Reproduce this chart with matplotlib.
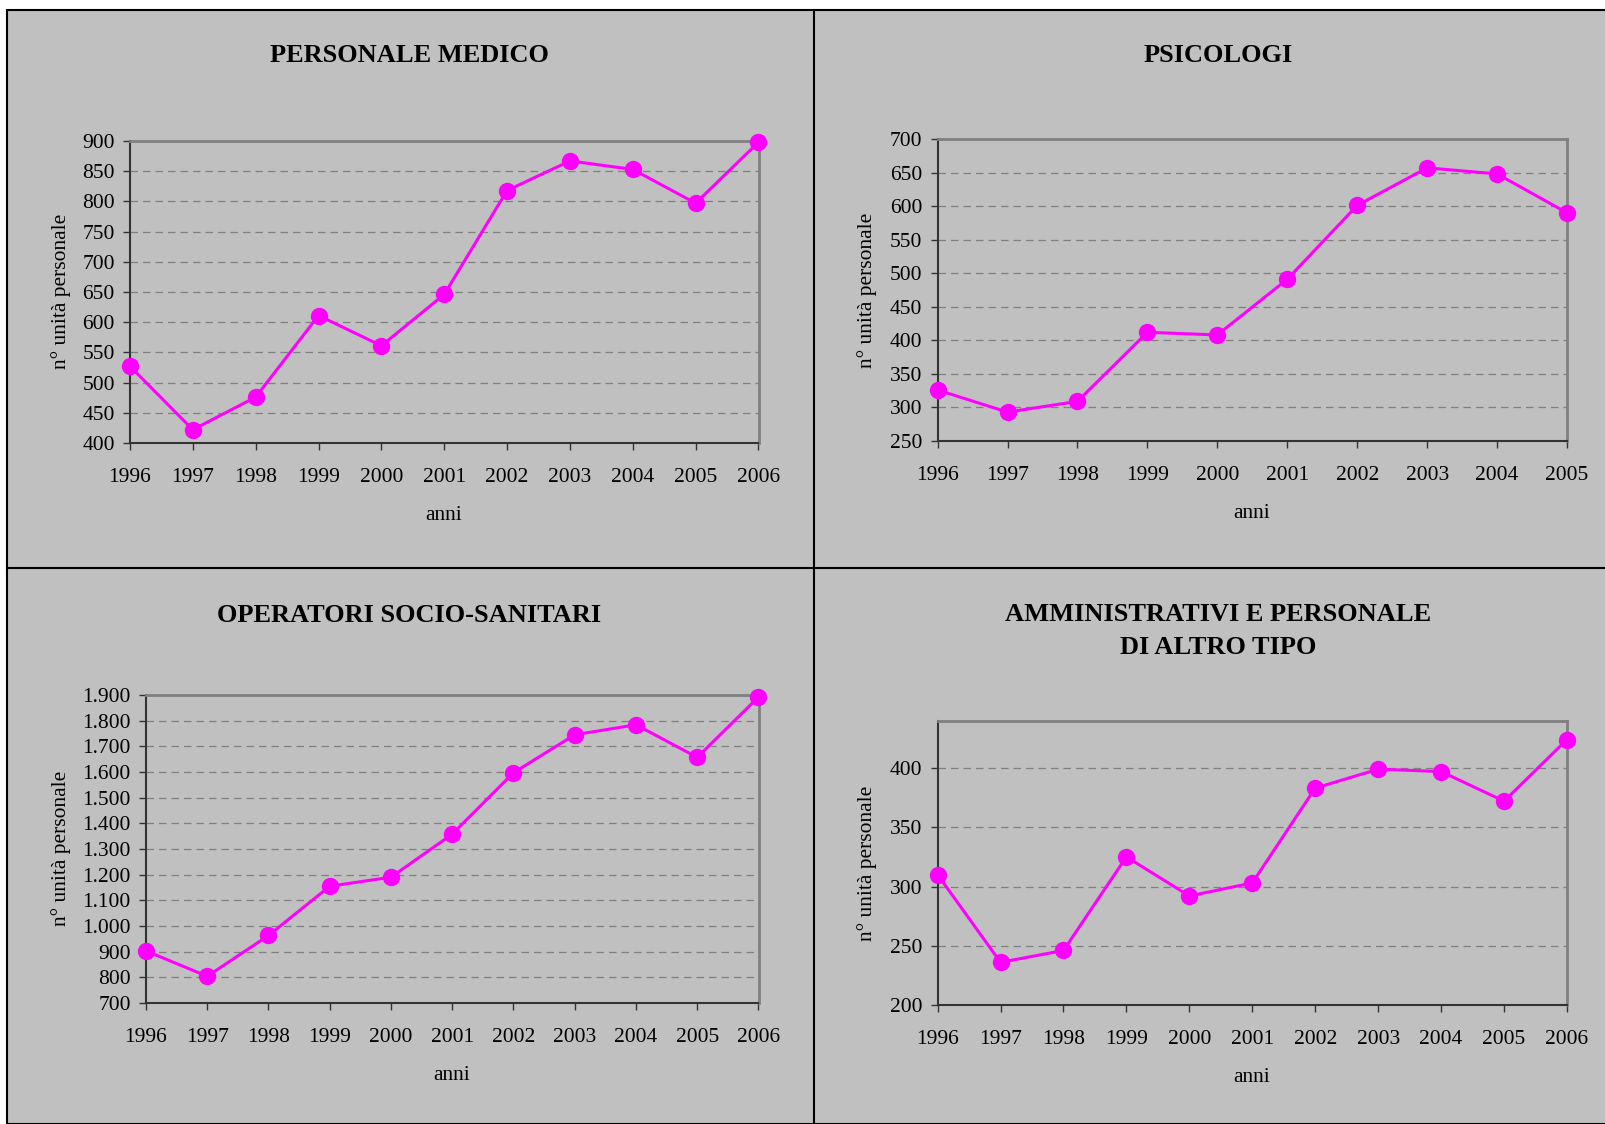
import matplotlib.pyplot as plt
from matplotlib.patches import Rectangle
from matplotlib.lines import Line2D
from matplotlib.ticker import FuncFormatter, MultipleLocator


years = list(range(1996, 2007))
years_psi = list(range(1996, 2006))

medici = [527, 422, 476, 611, 561, 646, 818, 867, 853, 797, 898]
psicologi = [326, 293, 309, 412, 408, 491, 601, 657, 648, 590]
oss = [903, 804, 963, 1155, 1190, 1358, 1597, 1745, 1784, 1657, 1892]
amministrativi = [310, 236, 246, 325, 292, 303, 383, 399, 397, 372, 424]

W, H = 1605, 1124
BG = "#c0c0c0"
MAGENTA = "#ff00ff"

plt.rcParams["font.family"] = ["Liberation Serif", "DejaVu Serif"]

fig = plt.figure(figsize=(W / 100, H / 100), dpi=100)
fig.patch.set_facecolor("white")

# panel background and frame lines
fig.patches.append(Rectangle((7 / W, 0), 1.2, 1 - 10 / H, transform=fig.transFigure,
                             facecolor=BG, edgecolor="black", linewidth=1.5, zorder=-10))
fig.lines.append(Line2D([814 / W, 814 / W], [0, 1 - 10 / H], transform=fig.transFigure,
                        color="black", linewidth=1.5))
fig.lines.append(Line2D([7 / W, 1], [1 - 568 / H, 1 - 568 / H], transform=fig.transFigure,
                        color="black", linewidth=1.5))


def dot_thousands(v, _pos):
    return f"{int(v):,}".replace(",", ".")


def draw_panel(rect, x, y, ylim, step, xlim, fmt=None):
    ax = fig.add_axes(rect)
    ax.set_facecolor(BG)
    ax.plot(x, y, color=MAGENTA, linewidth=2.2, marker="o", markersize=11.5,
            clip_on=False, zorder=5)
    ax.set_xlim(*xlim)
    ax.set_ylim(*ylim)
    ax.set_xticks(list(range(xlim[0], xlim[1] + 1)))
    ax.yaxis.set_major_locator(MultipleLocator(step))
    if fmt:
        ax.yaxis.set_major_formatter(FuncFormatter(fmt))
    ax.grid(axis="y", color="#808080", linestyle=(0, (6, 4)), linewidth=0.9)
    ax.set_axisbelow(True)
    for side in ("top", "right"):
        ax.spines[side].set_color("#808080")
        ax.spines[side].set_linewidth(2)
    for side in ("left", "bottom"):
        ax.spines[side].set_color("#333333")
        ax.spines[side].set_linewidth(1.5)
    ax.tick_params(direction="out", length=5, width=1, labelsize=15.5, color="#333333")
    ax.tick_params(axis="y", pad=6)
    ax.tick_params(axis="x", pad=13)
    return ax


draw_panel([130 / W, 1 - 443 / H, 628.5 / W, 302 / H], years, medici,
           (400, 900), 50, (1996, 2006))
draw_panel([937.6 / W, 1 - 441 / H, 629.4 / W, 302 / H], years_psi, psicologi,
           (250, 700), 50, (1996, 2005))
draw_panel([146 / W, 1 - 1003 / H, 612.5 / W, 308 / H], years, oss,
           (700, 1900), 100, (1996, 2006), dot_thousands)
draw_panel([937.6 / W, 1 - 1005 / H, 629.4 / W, 284.4 / H], years, amministrativi,
           (200, 440), 50, (1996, 2006))

titles = [
    (409, 56, "PERSONALE MEDICO"),
    (1218, 56, "PSICOLOGI"),
    (409, 615, "OPERATORI SOCIO-SANITARI"),
    (1218, 631, "AMMINISTRATIVI E PERSONALE\nDI ALTRO TIPO"),
]
for tx, ty, t in titles:
    fig.text(tx / W, 1 - ty / H, t, ha="center", va="center", fontsize=19,
             fontweight="bold", linespacing=1.55)

for lx, ly in [(61, 291), (867, 290), (61, 848), (867, 863)]:
    fig.text(lx / W, 1 - ly / H, "n° unità personale", rotation=90,
             ha="center", va="center", fontsize=15.5)

for ax_x, ax_y in [(444, 516), (1252, 513), (452, 1076), (1252, 1078)]:
    fig.text(ax_x / W, 1 - ax_y / H, "anni", ha="center", va="center", fontsize=15.5)

fig.savefig("out.png", dpi=100, facecolor=fig.get_facecolor())
